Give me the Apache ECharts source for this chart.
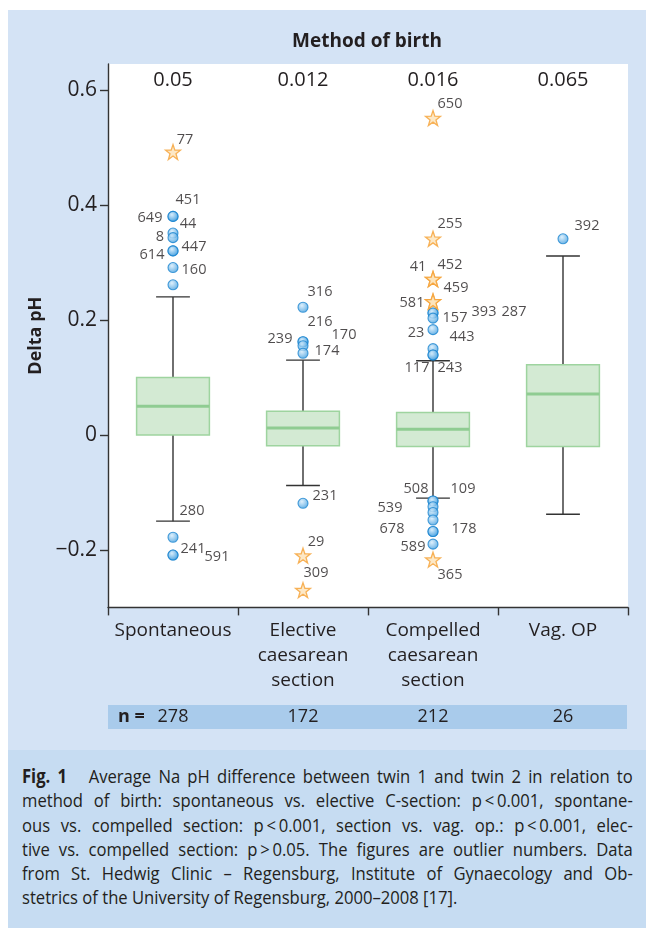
<!DOCTYPE html>
<html><head><meta charset="utf-8">
<script src="https://cdn.jsdelivr.net/npm/echarts@6/dist/echarts.min.js"></script>
<style>
html,body{margin:0;padding:0;background:#fff;}
#wrap{position:relative;width:646px;height:928px;overflow:hidden;background:#fff;}
#panel{position:absolute;left:8px;top:10px;width:638px;height:740px;background:#d4e3f5;}
#capPanel{position:absolute;left:8px;top:750px;width:638px;height:178px;background:#c6dcf2;}
#chart{position:absolute;left:0;top:0;width:646px;height:750px;}
#caption{position:absolute;left:22px;top:764px;width:698px;font-family:'Open Sans',sans-serif;font-size:19px;line-height:24.3px;color:#231f20;transform:scaleX(0.875);transform-origin:0 0;}
#caption div{text-align:justify;text-align-last:justify;white-space:nowrap;}
#caption div.last{text-align:left;text-align-last:left;}
</style></head>
<body><div id="wrap">
<div id="panel"></div><div id="capPanel"></div>
<div id="chart"></div>
<div id="caption">
<div><b>Fig. 1</b>&nbsp;&nbsp; Average Na pH difference between twin 1 and twin 2 in relation to</div>
<div>method of birth: spontaneous vs. elective C-section: p&#8201;&lt;&#8201;0.001, spontane-</div>
<div>ous vs. compelled section: p&#8201;&lt;&#8201;0.001, section vs. vag. op.: p&#8201;&lt;&#8201;0.001, elec-</div>
<div>tive vs. compelled section: p&#8201;&gt;&#8201;0.05. The figures are outlier numbers. Data</div>
<div>from St. Hedwig Clinic – Regensburg, Institute of Gynaecology and Ob-</div>
<div class="last">stetrics of the University of Regensburg, 2000–2008 [17].</div>
</div>
</div>
<script>
const categories = ['Spontaneous', 'Elective\ncaesarean\nsection', 'Compelled\ncaesarean\nsection', 'Vag. OP'];
const medianLabels = ['0.05', '0.012', '0.016', '0.065'];
const sampleSizes = ['278', '172', '212', '26'];
const yTicks = [-0.2, 0, 0.2, 0.4, 0.6];
// [lower whisker, Q1, median, Q3, upper whisker]
const boxStats = [
  [-0.15, 0.0, 0.05, 0.10, 0.24],
  [-0.088, -0.019, 0.012, 0.041, 0.13],
  [-0.11, -0.02, 0.01, 0.039, 0.129],
  [-0.138, -0.02, 0.071, 0.122, 0.311]
];
// [category index, delta pH, case number]
const circleOutliers = [
  [0, 0.38, '451'], [0, 0.38, '649'], [0, 0.351, '44'], [0, 0.343, '8'],
  [0, 0.32, '447'], [0, 0.32, '614'], [0, 0.291, '160'], [0, 0.261, ''],
  [0, -0.178, '280'], [0, -0.209, '241'], [0, -0.209, '591'],
  [1, 0.222, '316'], [1, 0.162, '216'], [1, 0.162, '239'], [1, 0.155, '170'],
  [1, 0.142, '174'], [1, -0.119, '231'],
  [2, 0.212, '393'], [2, 0.212, '287'], [2, 0.203, '157'], [2, 0.183, '23'],
  [2, 0.15, '443'], [2, 0.139, '117'], [2, 0.139, '243'],
  [2, -0.115, '508'], [2, -0.115, '109'], [2, -0.125, '539'], [2, -0.135, ''],
  [2, -0.148, ''], [2, -0.168, '678'], [2, -0.168, '178'], [2, -0.19, '589'],
  [3, 0.341, '392']
];
const starOutliers = [
  [0, 0.492, '77'],
  [1, -0.21, '29'], [1, -0.27, '309'],
  [2, 0.551, '650'], [2, 0.341, '255'], [2, 0.271, '452'], [2, 0.271, '41'],
  [2, 0.232, '459'], [2, 0.232, '581'], [2, -0.217, '365']
];
// label placement (pixel offsets from the marker), same order as above
const circleLabelOffsets = [
  [15,-17],[-23,1],[15,-9],[-13,-1],[21,-4],[-21,4],[21,2],[0,0],
  [19,-26],[20,-6],[44,2],
  [17,-15],[17,-20],[-23,-3],[41,-11],[24,-2],[22,-7],
  [51,-1],[81,-1],[22,0],[-17,3],[29,-12],[-16,13],[17,13],
  [-17,-12],[30,-12],[-43,1],[0,0],[0,0],[-41,-3],[31,-3],[-20,3],
  [24,-13]
];
const starLabelOffsets = [
  [12,-12],[13,-14],[13,-17],[17,-14],[17,-15],[17,-14],[-15,-12],[23,-14],[-21,1],[17,15]
];

const FONT = "'Open Sans', sans-serif";
const TXT = '#231f20';
const starPath = 'path://M0,-10 L2.35,-3.24 L9.51,-3.09 L3.8,1.24 L5.88,8.09 L0,4 L-5.88,8.09 L-3.8,1.24 L-9.51,-3.09 L-2.35,-3.24 Z';

const chart = echarts.init(document.getElementById('chart'), null, {renderer: 'canvas'});

function renderBox(params, api) {
  const c = api.value(0);
  const low = api.coord([c, api.value(1)]);
  const q1 = api.coord([c, api.value(2)]);
  const med = api.coord([c, api.value(3)]);
  const q3 = api.coord([c, api.value(4)]);
  const high = api.coord([c, api.value(5)]);
  const band = api.size([1, 0])[0];
  const hw = band * 0.28;
  const cw = band * 0.13;
  const x = low[0];
  const wStyle = {stroke: '#333333', lineWidth: 1.4};
  return {
    type: 'group',
    children: [
      {type: 'line', shape: {x1: x, y1: high[1], x2: x, y2: q3[1]}, style: wStyle},
      {type: 'line', shape: {x1: x, y1: q1[1], x2: x, y2: low[1]}, style: wStyle},
      {type: 'line', shape: {x1: x - cw, y1: high[1], x2: x + cw, y2: high[1]}, style: wStyle},
      {type: 'line', shape: {x1: x - cw, y1: low[1], x2: x + cw, y2: low[1]}, style: wStyle},
      {type: 'rect', shape: {x: x - hw, y: q3[1], width: hw * 2, height: q1[1] - q3[1]},
        style: {fill: '#d3ead3', stroke: '#9ed49f', lineWidth: 1.5}},
      {type: 'line', shape: {x1: x - hw, y1: med[1], x2: x + hw, y2: med[1]},
        style: {stroke: '#8fcc92', lineWidth: 3}}
    ]
  };
}

const circleData = circleOutliers.map((d, i) => ({
  value: d, label: {offset: circleLabelOffsets[i]}
}));
const starData = starOutliers.map((d, i) => ({
  value: d, label: {offset: starLabelOffsets[i]}
}));

const outLabel = {
  show: true, position: 'inside', formatter: p => p.value[2],
  color: TXT, fontSize: 14.5, fontFamily: FONT, align: 'center', verticalAlign: 'middle'
};

const option = {
  animation: false,
  backgroundColor: 'transparent',
  textStyle: {fontFamily: FONT},
  grid: {left: 108, right: 18, top: 64, height: 543.4, show: true, backgroundColor: '#ffffff', borderWidth: 0},
  xAxis: [
    {
      type: 'category', data: categories, position: 'bottom',
      axisLine: {show: true, onZero: false, lineStyle: {color: '#333333', width: 1.4}},
      axisTick: {show: true, length: 8, lineStyle: {color: '#333333', width: 1.4}},
      axisLabel: {color: TXT, fontSize: 19, lineHeight: 25, margin: 11, fontFamily: FONT, interval: 0},
      splitLine: {show: false}
    },
    {
      type: 'category', data: medianLabels, position: 'top',
      axisLine: {show: false, onZero: false}, axisTick: {show: false},
      axisLabel: {inside: true, color: TXT, fontSize: 20, margin: 6, fontFamily: FONT, interval: 0},
      splitLine: {show: false}
    }
  ],
  yAxis: {
    type: 'value', min: -0.3, max: 0.645,
    name: 'Delta pH', nameLocation: 'middle', nameGap: 55,
    nameTextStyle: {color: TXT, fontSize: 18, fontWeight: 'bold', fontFamily: FONT},
    axisLine: {show: true, lineStyle: {color: '#333333', width: 1.4}},
    axisTick: {show: true, length: 8, customValues: yTicks, lineStyle: {color: '#333333', width: 1.4}},
    axisLabel: {customValues: yTicks, color: TXT, fontSize: 21, margin: 11, fontFamily: FONT,
      formatter: v => (v < 0 ? '\u2212' + String(Math.abs(v)) : String(v))},
    splitLine: {show: false}
  },
  series: [
    {
      type: 'custom', xAxisIndex: 0, renderItem: renderBox,
      data: boxStats.map((b, i) => [i].concat(b)),
      encode: {x: 0, y: [1, 2, 3, 4, 5]}, z: 2
    },
    {
      type: 'scatter', xAxisIndex: 0, symbol: 'circle', symbolSize: 10, z: 3,
      itemStyle: {
        color: new echarts.graphic.RadialGradient(0.4, 0.35, 0.65, [
          {offset: 0, color: '#d6ecfb'}, {offset: 1, color: '#3f9ddf'}
        ]),
        borderColor: '#1a84cf', borderWidth: 1.1
      },
      label: outLabel, data: circleData
    },
    {
      type: 'scatter', xAxisIndex: 0, symbol: starPath, symbolSize: 15, z: 3,
      itemStyle: {color: '#fde2b8', borderColor: '#f5a033', borderWidth: 1.3},
      label: outLabel, data: starData
    }
  ]
};
chart.setOption(option);

const nTexts = sampleSizes.map((s, i) => ({
  type: 'text', x: chart.convertToPixel({xAxisIndex: 0}, i), y: 717,
  style: {text: s, fill: TXT, font: '18px ' + FONT, textAlign: 'center', textVerticalAlign: 'middle'}
}));
chart.setOption({
  graphic: [
    {type: 'text', x: 367, y: 42, style: {text: 'Method of birth', fill: TXT,
      font: 'bold 19px ' + FONT, textAlign: 'center', textVerticalAlign: 'middle'}},
    {type: 'rect', shape: {x: 108, y: 705, width: 519, height: 24}, style: {fill: '#a9cbeb'}},
    {type: 'text', x: 118, y: 717, style: {text: 'n =', fill: TXT,
      font: 'bold 18px ' + FONT, textAlign: 'left', textVerticalAlign: 'middle'}}
  ].concat(nTexts)
});
</script>
</body></html>
